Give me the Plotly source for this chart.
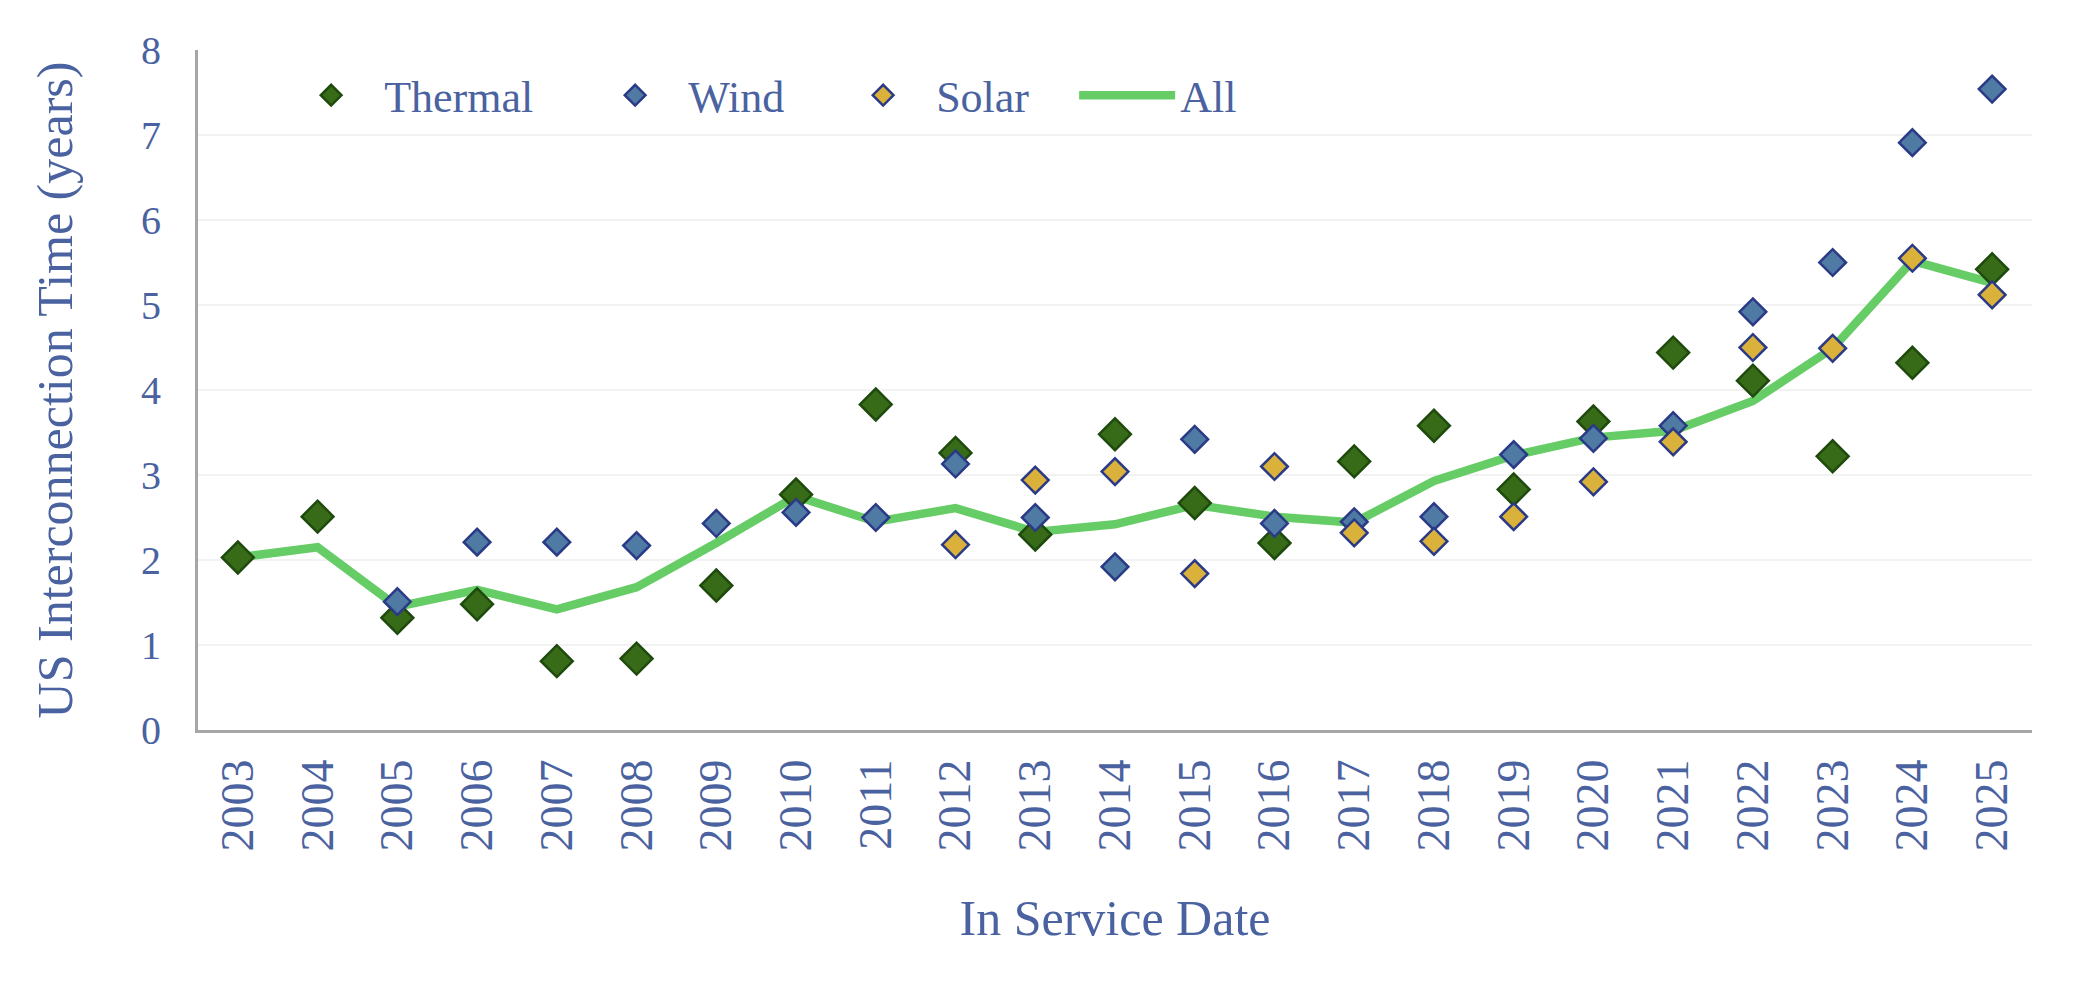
import plotly.graph_objects as go

years = [str(y) for y in range(2003, 2026)]

thermal = [2.03, 2.51, 1.32, 1.48, 0.81, 0.84, 1.70, 2.77, 3.83, 3.26, 2.30, 3.48,
           2.67, 2.20, 3.16, 3.58, 2.83, 3.63, 4.44, 4.11, 3.22, 4.32, 5.42]
wind = [None, None, 1.51, 2.21, 2.21, 2.17, 2.43, 2.56, 2.50, 3.13, 2.50, 1.92,
        3.42, 2.43, 2.45, 2.51, 3.24, 3.43, 3.58, 4.92, 5.50, 6.91, 7.54]
solar = [None, None, None, None, None, None, None, None, None, 2.18, 2.94, 3.04,
         1.84, 3.10, 2.32, 2.22, 2.51, 2.92, 3.39, 4.50, 4.49, 5.55, 5.12]
all_types = [2.03, 2.15, 1.45, 1.65, 1.42, 1.68, 2.20, 2.75, 2.45, 2.61, 2.33, 2.42,
             2.65, 2.51, 2.44, 2.93, 3.23, 3.44, 3.52, 3.87, 4.49, 5.52, 5.26]

y_ticks = [0, 1, 2, 3, 4, 5, 6, 7, 8]

TEXT = "#4a62a0"
FONT = "'Liberation Serif', Georgia, serif"

fig = go.Figure()
fig.add_trace(go.Scatter(
    x=years, y=all_types, name="All", mode="lines",
    line=dict(color="#66cc66", width=8.5), legendrank=4, legendwidth=60,
))
fig.add_trace(go.Scatter(
    x=years, y=thermal, name="Thermal", mode="markers",
    marker=dict(symbol="diamond", size=24.5, color="#376b17",
                line=dict(color="#1f4a0e", width=2.5)),
    legendrank=1, legendwidth=193,
))
fig.add_trace(go.Scatter(
    x=years, y=wind, name="Wind", mode="markers",
    marker=dict(symbol="diamond", size=20.5, color="#4e7aa3",
                line=dict(color="#2b3a86", width=2.5)),
    legendrank=2, legendwidth=137,
))
fig.add_trace(go.Scatter(
    x=years, y=solar, name="Solar", mode="markers",
    marker=dict(symbol="diamond", size=20.5, color="#d9b13b",
                line=dict(color="#2b3a86", width=2.5)),
    legendrank=3, legendwidth=133,
))

fig.update_layout(
    width=2079, height=990,
    margin=dict(l=198, r=47, t=50, b=260),
    paper_bgcolor="white", plot_bgcolor="white",
    font=dict(family=FONT, color=TEXT, size=40),
    showlegend=True,
    legend=dict(
        orientation="h", x=0.0437, xanchor="left", y=0.933, yanchor="middle",
        font=dict(family=FONT, size=44, color=TEXT),
        itemwidth=96, bgcolor="rgba(0,0,0,0)", traceorder="normal",
    ),
    xaxis=dict(
        type="category", range=[-0.5, 22.5],
        showline=True, linecolor="#a6a6a6", linewidth=3,
        showgrid=False, ticks="", tickangle=-90,
        tickfont=dict(family=FONT, size=46, color=TEXT),
        ticklabelstandoff=8,
        title=dict(text="In Service Date", font=dict(family=FONT, size=50, color=TEXT),
                   standoff=50),
    ),
    yaxis=dict(
        range=[0, 8], tickvals=y_ticks, ticktext=[str(v) for v in y_ticks],
        showline=True, linecolor="#a6a6a6", linewidth=3,
        showgrid=True, gridcolor="#f2f2f2", gridwidth=2,
        zeroline=False, ticks="",
        tickfont=dict(family=FONT, size=40, color=TEXT),
        ticklabelstandoff=26,
        title=dict(text="US Interconnection Time (years)",
                   font=dict(family=FONT, size=50, color=TEXT), standoff=53),
    ),
)

fig.write_html("out.html")
